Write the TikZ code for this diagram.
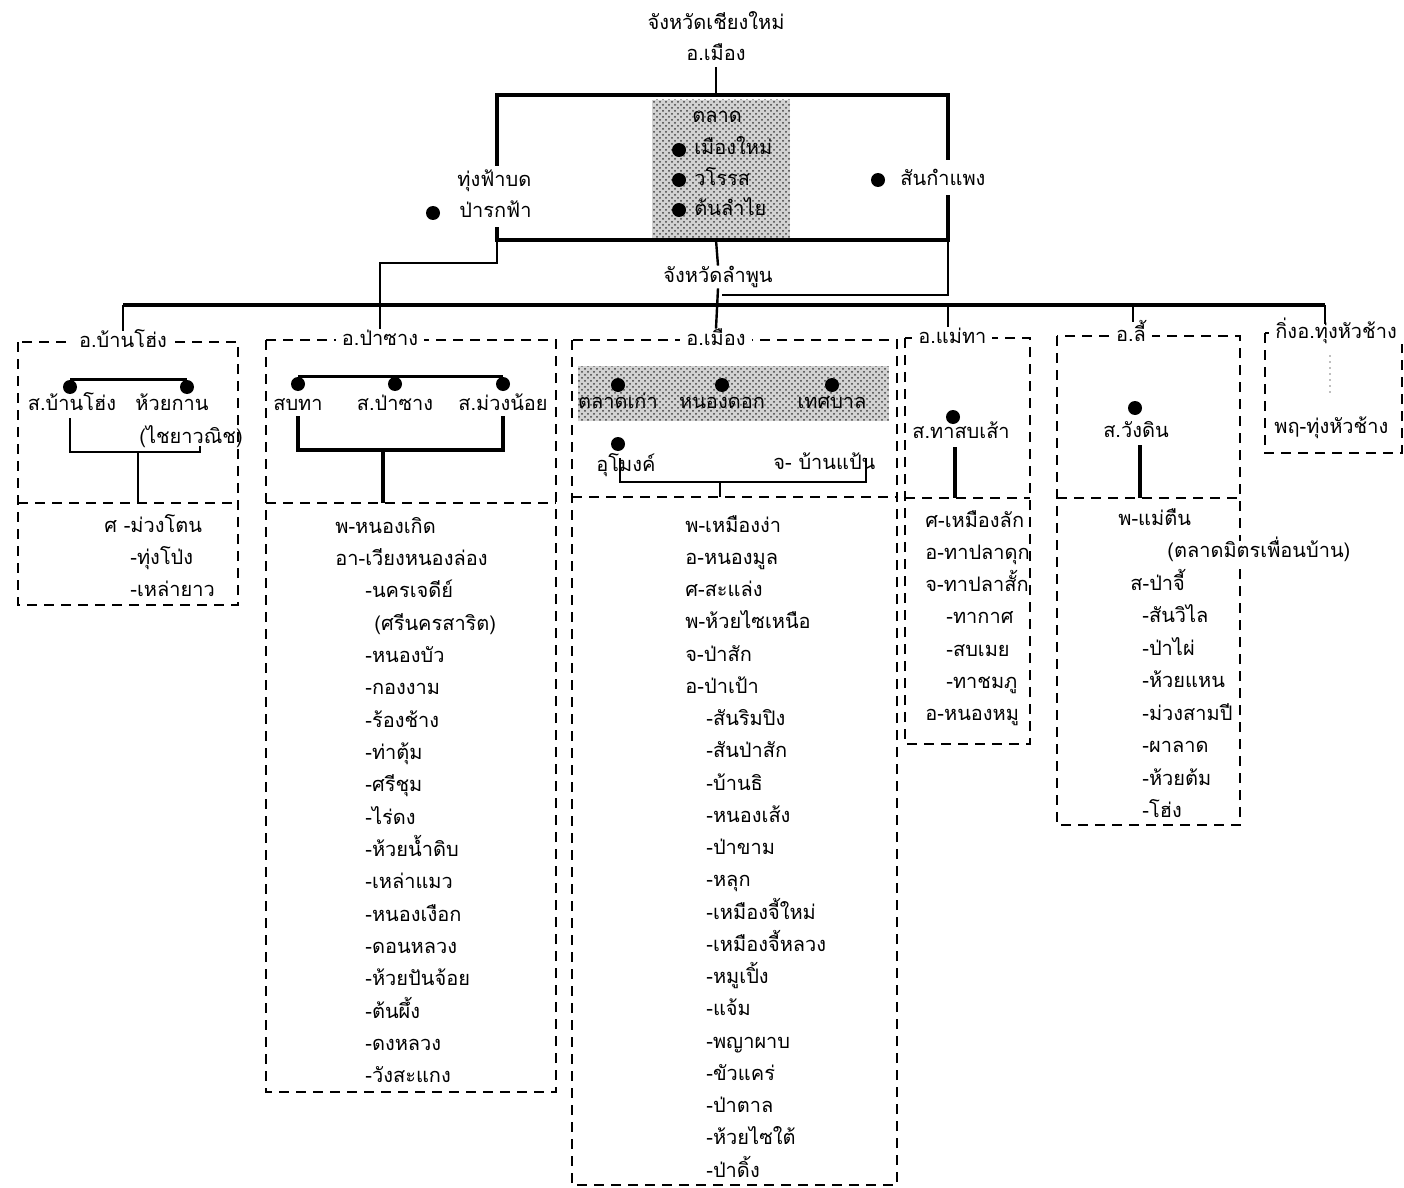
\documentclass[tikz,border=0pt]{standalone}
\usepackage{fontspec}
\newfontfamily\thaifont[Script=Thai]{Loma}
\usetikzlibrary{calc,positioning,patterns}
\tikzset{
  every node/.style={font=\thaifont\fontsize{10}{12}\selectfont, inner sep=1pt,
                     text height=7pt, text depth=2pt},
  head/.style={fill=white, inner xsep=3pt},
  dot/.style={circle, fill=black, inner sep=0pt, minimum size=7pt,
              text height=0pt, text depth=0pt},
  box/.style={line width=1pt, dash pattern=on 5pt off 3.5pt},
  bar/.style={line width=2pt},
  link/.style={line width=1.2pt},
  trunk/.style={line width=1.6pt},
  market/.style={fill=gray!35},
  screen/.style={pattern=crosshatch dots, pattern color=gray!50!black}
}

\begin{document}
\begin{tikzpicture}[x=0.5pt,y=-0.5pt]
\useasboundingbox (0,0) rectangle (1404,1188);
\pgfmathsetmacro{\lstep}{32.35}

% Chiang Mai
\node (cm) at (716,25) {จังหวัดเชียงใหม่};
\node (cmmueang) at (716,56) {อ.เมือง};
\coordinate (ftop) at (716,95);
\coordinate (fbl) at (497,240);
\coordinate (fbm) at (716,240);
\coordinate (fbr) at (948,240);
\draw[link] (cmmueang.south) -- (ftop);
\draw[bar] (497,166) -- (497,95) -- (948,95) -- (948,160);
\draw[bar] (497,227) -- (fbl) -- (fbr) -- (948,195);
\fill[market] (652,100) rectangle (790,238);
\fill[screen] (652,100) rectangle (790,238);
\node (talat) at (717,118) {ตลาด};
\foreach \y/\t [count=\i] in {150/เมืองใหม่,180/วโรรส,210/ต้นลำไย}{
  \node[dot] (cmdot\i) at (679,\y) {};
  \node[anchor=west] (cmmk\i) at (692,\y) {\t};
}
\node[anchor=west] (tungfa) at (455,182) {ทุ่งฟ้าบด};
\node[anchor=west] (parok) at (457,213) {ป่ารกฟ้า};
\node[dot] (parokdot) at (433,213) {};
\node[dot] (sankpdot) at (878,180) {};
\node[anchor=west] (sankp) at (898,180) {สันกำแพง};

% Lamphun
\node (lp) at (718,277) {จังหวัดลำพูน};
\coordinate (rjoin) at (722,295);
\coordinate (tl) at (123,305);
\coordinate (tr) at (1325,305);
\draw[link] (fbm) -- (lp.north);
\draw[link] (fbr) |- (rjoin);
\draw[trunk] (tl) -- (tr);

% dashed district boxes
\draw[box] (18,342) rectangle (238,605);
\draw[box] (18,503) -- (238,503);
\draw[box] (266,340) rectangle (556,1092);
\draw[box] (266,503) -- (556,503);
\draw[box] (572,340) rectangle (897,1185);
\draw[box] (572,497) -- (897,497);
\draw[box] (905,338) rectangle (1030,744);
\draw[box] (905,498) -- (1030,498);
\draw[box] (1057,336) rectangle (1240,825);
\draw[box] (1057,498) -- (1240,498);
\draw[box] (1265,333) rectangle (1402,453);

\node[head] (banhong) at (123,342) {อ.บ้านโฮ่ง};
\node[head] (pasang) at (380,340) {อ.ป่าซาง};
\node[head] (mueang) at (716,340) {อ.เมือง};
\node[head, anchor=west] (maetha) at (912,338) {อ.แม่ทา};
\node[head] (li) at (1131,336) {อ.ลี้};
\node[head, anchor=west] (tunghc) at (1269,333) {กิ่งอ.ทุ่งหัวช้าง};

\draw[link] (tl) -- (banhong.north);
\draw[link] (fbl) -- (497,263) -| (pasang.north);
\draw[link] (lp.south) -- (mueang.north);
\draw[link] (948,305) -- (948,327);
\draw[link] (1133,305) -- (1133,322);
\draw[link] (tr) -- (1325,324);

% อ.บ้านโฮ่ง
\node[dot] (bh1) at (70,387) {};
\node[dot] (bh2) at (187,387) {};
\draw[link] (bh1.north) -- (bh2.north);
\node (bh1t) at (72,405) {ส.บ้านโฮ่ง};
\node (bh2t) at (172,405) {ห้วยกาน};
\node (bh2s) at (191,438) {(ไชยาวณิช)};
\coordinate (bhj) at (138,452);
\draw[link] (70,418) |- (bhj) -| (200,446);
\draw[link] (bhj) -- (138,503);
\foreach \x/\t [count=\i] in {102/ศ -ม่วงโตน,128/-ทุ่งโป่ง,128/-เหล่ายาว}{
  \pgfmathsetmacro{\yy}{527+\lstep*(\i-1)}
  \node[anchor=west] (bhl\i) at (\x,\yy) {\t};
}

% อ.ป่าซาง
\foreach \x/\t [count=\i] in {298/สบทา,395/ส.ป่าซาง,503/ส.ม่วงน้อย}{
  \node[dot] (ps\i) at (\x,384) {};
  \node (ps\i t) at (\x,405) {\t};
}
\draw[link] (ps1.north) -- (ps3.north);
\coordinate (psj) at (383,450);
\draw[bar] (ps1t.south) |- (psj) -| (ps3t.south);
\draw[bar] (psj) -- (383,503);
\foreach \x/\t [count=\i] in {333/พ-หนองเกิด,333/อา-เวียงหนองล่อง,363/-นครเจดีย์,
    372/(ศรีนครสาริต),363/-หนองบัว,363/-กองงาม,363/-ร้องช้าง,363/-ท่าตุ้ม,
    363/-ศรีชุม,363/-ไร่ดง,363/-ห้วยน้ำดิบ,363/-เหล่าแมว,363/-หนองเงือก,
    363/-ดอนหลวง,363/-ห้วยปันจ้อย,363/-ต้นผึ้ง,363/-ดงหลวง,363/-วังสะแกง}{
  \pgfmathsetmacro{\yy}{528+\lstep*(\i-1)}
  \node[anchor=west] (psl\i) at (\x,\yy) {\t};
}

% อ.เมือง ลำพูน
\fill[market] (578,366) rectangle (889,421);
\fill[screen] (578,366) rectangle (889,421);
\foreach \x/\t [count=\i] in {618/ตลาดเก่า,722/หนองดอก,832/เทศบาล}{
  \node[dot] (mt\i) at (\x,385) {};
  \node (mt\i t) at (\x,403) {\t};
}
\node[dot] (umong) at (618,444) {};
\node[anchor=west] (umongt) at (594,466) {อุโมงค์};
\node[anchor=west] (banpaen) at (771,464) {จ- บ้านแป้น};
\coordinate (mj) at (720,482);
\draw[link] (620,458) |- (mj) -| (866,458);
\draw[link] (mj) -- (720,497);
\foreach \x/\t [count=\i] in {683/พ-เหมืองง่า,683/อ-หนองมูล,683/ศ-สะแล่ง,
    683/พ-ห้วยไซเหนือ,683/จ-ป่าสัก,683/อ-ป่าเป้า,704/-สันริมปิง,704/-สันป่าสัก,
    704/-บ้านธิ,704/-หนองเส้ง,704/-ป่าขาม,704/-หลุก,704/-เหมืองจี้ใหม่,
    704/-เหมืองจี้หลวง,704/-หมูเปิ้ง,704/-แจ้ม,704/-พญาผาบ,704/-ขัวแคร่,
    704/-ป่าตาล,704/-ห้วยไซใต้,704/-ป่าดิ้ง}{
  \pgfmathsetmacro{\yy}{527+32.25*(\i-1)}
  \node[anchor=west] (mul\i) at (\x,\yy) {\t};
}

% อ.แม่ทา
\node[dot] (mtdot) at (953,417) {};
\node (mtt) at (961,433) {ส.ทาสบเส้า};
\draw[bar] (955,447) -- (955,498);
\foreach \x/\t [count=\i] in {923/ศ-เหมืองลัก,923/อ-ทาปลาดุก,923/จ-ทาปลาสั้ก,
    944/-ทากาศ,944/-สบเมย,944/-ทาชมภู,923/อ-หนองหมู}{
  \pgfmathsetmacro{\yy}{522+32.3*(\i-1)}
  \node[anchor=west] (mtl\i) at (\x,\yy) {\t};
}

% อ.ลี้
\node[dot] (lidot) at (1135,408) {};
\node (lit) at (1136,432) {ส.วังดิน};
\draw[bar] (1140,445) -- (1140,498);
\node[anchor=west] (lil1) at (1116,520) {พ-แม่ตืน};
\node[anchor=west, fill=white] (lil2) at (1165,552) {(ตลาดมิตรเพื่อนบ้าน)};
\foreach \x/\t [count=\i from 3] in {1128/ส-ป่าจี้,1140/-สันวิไล,1140/-ป่าไผ่,
    1140/-ห้วยแหน,1140/-ม่วงสามปี,1140/-ผาลาด,1140/-ห้วยต้ม,1140/-โฮ่ง}{
  \pgfmathsetmacro{\yy}{520+32.5*(\i-1)}
  \node[anchor=west] (lil\i) at (\x,\yy) {\t};
}

% กิ่งอ.ทุ่งหัวช้าง
\draw[gray!50, dotted, line width=1pt] (1330,355) -- (1330,395);
\node[anchor=west] (thc) at (1272,428) {พฤ-ทุ่งหัวช้าง};
\end{tikzpicture}
\end{document}
